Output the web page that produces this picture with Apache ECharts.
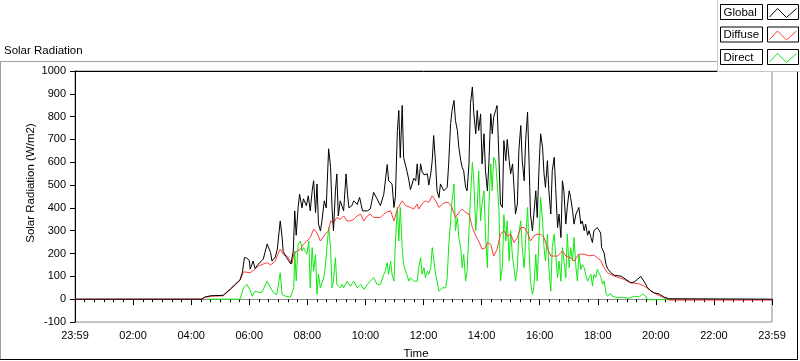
<!DOCTYPE html>
<html>
<head>
<meta charset="utf-8">
<script src="https://cdn.jsdelivr.net/npm/echarts@6/dist/echarts.min.js"></script>
<style>
html,body{margin:0;padding:0;background:#fff;}
#chart{width:800px;height:361px;}
</style>
</head>
<body>
<div id="chart"></div>
<script>
// Time in minutes from the left edge (23:59 of previous day ~ 0) to 1440 (23:59)
var xTickLabels = ['23:59','02:00','04:00','06:00','08:00','10:00','12:00','14:00','16:00','18:00','20:00','22:00','23:59'];
var yTicks = {min: -100, max: 1000, interval: 100};
var seriesNames = ['Global', 'Diffuse', 'Direct'];

var globalT = [0,261,269,281,306,321,331,341,346,350,355,360,362,368,372,379,389,397,404,407,414,418,424,428,430,437,441,446,451,454,457,461,464,469,472,478,482,486,490,493,497,500,503,507,510,515,519,524,528,531,534,538,541,544,548,555,560,563,566,572,576,583,588,594,604,610,617,624,631,638,641,645,648,652,655,659,662,666,669,672,676,679,683,686,690,693,697,700,704,707,710,714,717,721,728,731,735,738,741,745,748,752,755,762,769,772,776,779,783,786,790,793,797,800,803,807,810,814,817,821,824,828,831,834,838,841,845,848,852,855,859,862,865,869,872,876,879,883,886,890,893,897,900,904,907,910,914,917,921,924,928,931,935,938,941,945,948,952,955,959,962,966,969,972,976,979,983,986,990,993,997,1000,1004,1007,1010,1014,1017,1021,1024,1028,1031,1035,1038,1041,1045,1048,1052,1055,1059,1062,1066,1069,1072,1079,1083,1086,1088,1093,1097,1100,1107,1114,1128,1138,1148,1155,1162,1166,1169,1175,1183,1190,1196,1207,1217,1227,1231,1440];
var globalV = [0,0,10,15,17,45,65,85,120,182,180,170,132,167,135,154,176,242,204,167,185,220,343,270,210,182,170,154,211,387,280,402,460,400,440,410,453,387,475,519,380,505,330,299,340,431,400,659,578,400,299,475,549,365,431,387,549,460,400,410,431,415,446,387,387,395,468,440,410,460,468,590,520,520,505,402,450,739,827,620,849,620,622,560,519,480,480,530,519,593,500,593,560,545,549,500,549,607,717,593,475,445,505,475,490,593,769,827,871,783,739,665,607,578,563,490,475,593,857,930,812,725,827,739,812,593,725,563,475,593,813,725,798,827,849,607,417,402,695,607,700,607,549,593,490,373,417,651,761,607,519,695,820,607,373,299,373,475,358,593,725,665,549,490,607,475,373,563,622,490,314,373,270,519,475,329,402,475,445,387,329,373,387,402,330,343,300,329,280,300,270,248,300,314,300,290,226,204,153,135,116,105,101,87,72,75,87,95,100,80,50,35,28,23,9,2,0,0];

var diffuseT = [0,261,269,281,306,321,331,341,348,362,368,379,390,397,404,414,419,424,431,438,445,448,452,459,466,472,479,486,493,500,507,510,517,524,528,534,541,548,555,562,569,576,583,590,597,604,610,617,624,631,638,645,652,659,662,666,669,676,683,693,700,707,710,717,724,731,738,745,752,759,766,772,779,786,793,800,807,814,821,828,834,841,848,852,859,865,872,879,886,893,900,907,914,921,928,935,941,948,955,962,969,976,983,990,997,1007,1014,1024,1031,1041,1052,1062,1072,1079,1086,1093,1100,1114,1134,1148,1166,1176,1186,1200,1214,1228,1440];
var diffuseV = [0,0,8,13,15,42,62,83,120,116,125,145,155,160,150,167,197,219,195,189,167,155,198,211,220,241,255,270,307,290,255,255,285,300,343,335,358,350,365,343,343,350,365,373,343,365,373,358,358,358,373,383,387,343,343,395,400,431,410,402,395,417,395,417,431,424,453,431,402,417,424,424,402,358,380,395,380,373,314,277,255,219,226,248,240,189,219,285,299,277,285,248,270,314,314,292,255,277,285,285,270,226,189,189,189,211,189,182,167,197,197,190,193,182,170,138,116,101,87,72,67,57,43,23,9,-4,-4];

var directT = [273,341,348,355,362,366,372,379,386,397,404,410,417,424,428,435,445,452,454,457,461,466,469,472,479,483,486,490,493,497,500,503,507,514,517,524,528,531,534,538,541,548,552,555,562,569,576,583,590,597,604,610,617,624,631,638,641,645,648,652,655,659,662,666,669,672,676,679,683,690,693,700,707,710,714,717,721,724,728,731,735,738,741,745,748,752,759,766,769,772,776,779,783,786,790,793,797,800,803,807,810,814,817,821,824,828,831,834,838,841,845,848,852,855,859,862,865,869,872,876,879,883,886,890,893,897,900,904,907,910,914,917,921,924,928,931,935,938,941,945,948,952,955,959,962,966,969,972,976,979,983,986,990,993,997,1000,1004,1007,1010,1014,1017,1021,1024,1028,1031,1035,1038,1041,1045,1048,1052,1055,1059,1062,1066,1069,1072,1076,1079,1083,1086,1090,1093,1097,1100,1107,1110,1121,1134,1145,1155,1159,1166,1173,1179,1183,1231];
var directV = [0,0,50,65,40,13,35,30,30,79,50,28,20,116,20,13,9,50,211,80,241,255,211,226,197,255,50,226,123,197,21,110,50,94,138,314,226,50,79,182,65,50,65,50,79,57,79,50,65,43,65,79,94,65,65,109,123,160,109,167,109,79,250,402,255,402,226,152,123,79,94,79,79,138,182,109,138,94,123,109,138,226,226,109,79,35,50,50,94,226,343,431,505,300,360,270,226,138,197,79,123,300,445,600,520,300,400,563,343,420,475,285,138,400,593,475,622,607,615,390,79,138,370,255,343,167,300,182,138,79,138,290,343,226,138,255,402,226,79,21,50,197,79,285,446,343,226,167,285,138,35,226,285,197,94,167,79,226,167,94,285,138,226,167,270,138,79,197,130,152,138,109,79,94,109,57,109,94,131,130,100,65,80,28,13,25,13,6,8,4,13,21,10,23,13,-2,-2];

var colors = {Global: '#000000', Diffuse: '#ff3b3b', Direct: '#12e812'};

function zip(t, v) { var o = []; for (var i = 0; i < t.length; i++) o.push([t[i], v[i]]); return o; }

var FONT = 'Liberation Sans';
var chart = echarts.init(document.getElementById('chart'), null, {renderer: 'canvas'});

function legendItem(name, y0) {
  var x1 = 720.5, x2 = 767.5;
  return [
    {type: 'rect', shape: {x: x1, y: y0 + 0.5, width: 42, height: 15}, style: {fill: '#fff', stroke: '#000', lineWidth: 1}, z: 101},
    {type: 'text', style: {x: x1 + 3, y: y0 + 8.5, text: name, font: '11.5px "' + FONT + '"', fill: '#000', textVerticalAlign: 'middle'}, z: 102},
    {type: 'rect', shape: {x: x2, y: y0 + 0.5, width: 31, height: 15}, style: {fill: '#fff', stroke: '#000', lineWidth: 1}, z: 101},
    {type: 'polyline', shape: {points: [[x2 + 2, y0 + 13], [x2 + 10, y0 + 4.5], [x2 + 19, y0 + 13.5], [x2 + 29, y0 + 4.5]]}, style: {stroke: colors[name], lineWidth: 1, fill: null}, z: 102}
  ];
}

var graphics = [
  // panel frame
  {type: 'line', shape: {x1: 0, y1: 61.5, x2: 718, y2: 61.5}, style: {stroke: '#a0a0a0', lineWidth: 1}, z: 1},
  {type: 'line', shape: {x1: 0.5, y1: 61.5, x2: 0.5, y2: 359}, style: {stroke: '#a0a0a0', lineWidth: 1}, z: 1},
  {type: 'line', shape: {x1: 0, y1: 359.5, x2: 798, y2: 359.5}, style: {stroke: '#000', lineWidth: 1}, z: 1},
  {type: 'line', shape: {x1: 797.5, y1: 72, x2: 797.5, y2: 360}, style: {stroke: '#000', lineWidth: 1}, z: 1},
  // legend background
  {type: 'rect', shape: {x: 717.5, y: -1, width: 84, height: 72.5}, style: {fill: '#fff', stroke: '#c8c8c8', lineWidth: 1}, z: 100},
  // titles
  {type: 'text', style: {x: 4, y: 51, text: 'Solar Radiation', font: '11.5px "' + FONT + '"', fill: '#000', textVerticalAlign: 'middle'}, z: 5},
  {type: 'text', style: {x: 416, y: 353.5, text: 'Time', font: '11.5px "' + FONT + '"', fill: '#000', textAlign: 'center', textVerticalAlign: 'middle'}, z: 5},
  {type: 'text', x: 31, y: 183, rotation: Math.PI / 2, style: {x: 0, y: 0, text: 'Solar Radiation (W/m2)', font: '11.5px "' + FONT + '"', fill: '#000', textAlign: 'center', textVerticalAlign: 'middle'}, z: 5}
];
graphics = graphics.concat(legendItem('Global', 4), legendItem('Diffuse', 26.5), legendItem('Direct', 49));

var option = {
  animation: false,
  backgroundColor: '#fff',
  grid: {left: 75, right: 28, top: 71, bottom: 39, show: true, borderColor: '#8a8a8a', borderWidth: 1, backgroundColor: '#fff'},
  xAxis: [{
    type: 'value', min: 0, max: 1440, interval: 120,
    axisLine: {show: true, lineStyle: {color: '#8a8a8a', width: 1}},
    axisTick: {show: true, length: 6, lineStyle: {color: '#000'}},
    minorTick: {show: true, splitNumber: 6, length: 3, lineStyle: {color: '#000'}},
    splitLine: {show: false},
    axisLabel: {
      margin: 8, color: '#000', fontFamily: FONT, fontSize: 11,
      formatter: function (v) { return xTickLabels[Math.round(v / 120)]; }
    }
  }, {
    type: 'value', position: 'top', min: 0, max: 1440,
    axisLine: {show: true, onZero: false, lineStyle: {color: '#000', width: 1}},
    axisTick: {show: false}, axisLabel: {show: false}, splitLine: {show: false}
  }],
  yAxis: {
    type: 'value', min: yTicks.min, max: yTicks.max, interval: yTicks.interval,
    axisLine: {show: true, onZero: false, lineStyle: {color: '#000', width: 1}},
    axisTick: {show: true, length: 5, lineStyle: {color: '#000'}},
    splitLine: {show: false},
    axisLabel: {margin: 9, color: '#000', fontFamily: FONT, fontSize: 11, formatter: function (v) { return String(v); }}
  },
  series: [
    {name: 'Direct', type: 'line', showSymbol: false, data: zip(directT, directV), lineStyle: {color: colors.Direct, width: 1}, z: 2},
    {name: 'Diffuse', type: 'line', showSymbol: false, data: zip(diffuseT, diffuseV), lineStyle: {color: colors.Diffuse, width: 1}, z: 3},
    {name: 'Global', type: 'line', showSymbol: false, data: zip(globalT, globalV), lineStyle: {color: colors.Global, width: 1}, z: 4}
  ],
  graphic: graphics
};
chart.setOption(option);
</script>
</body>
</html>
